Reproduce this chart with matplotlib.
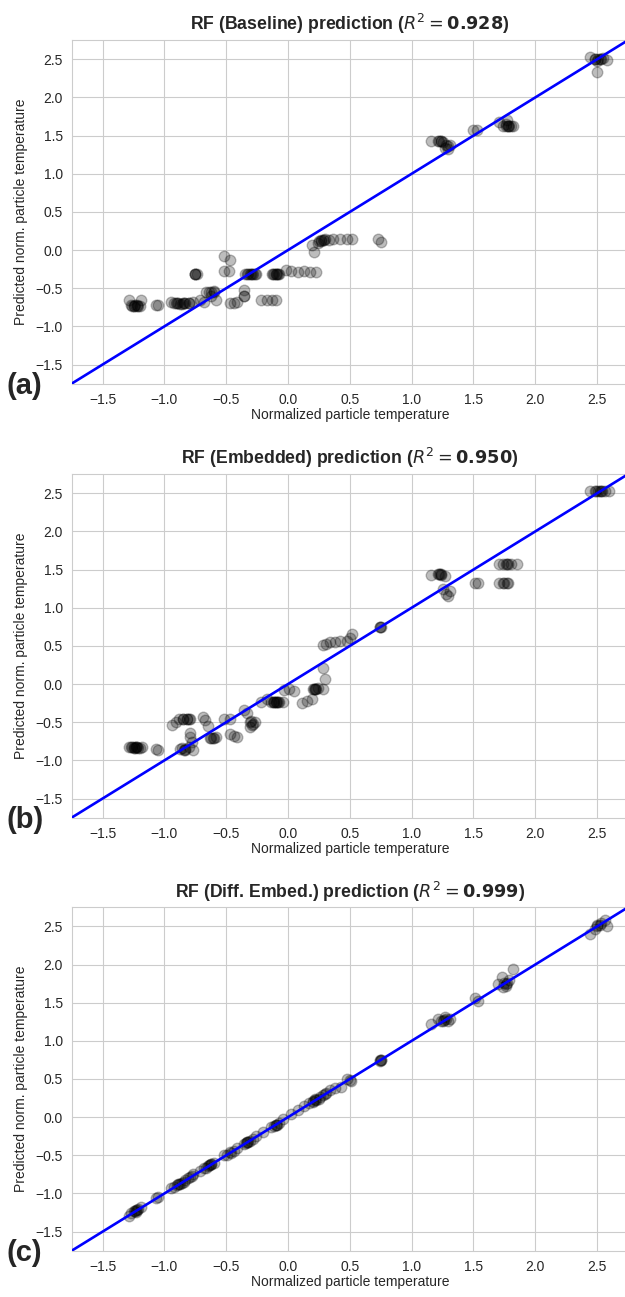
import matplotlib
matplotlib.use("Agg")
import matplotlib.pyplot as plt
import seaborn as sns

sns.set_style("whitegrid")
plt.rcParams['font.family'] = ['Liberation Sans', 'DejaVu Sans']
plt.rcParams['mathtext.fontset'] = 'dejavusans'

# ---------------- data ----------------
titles = ["RF (Baseline) prediction ($R^2 = \\mathbf{0.928}$)",
          "RF (Embedded) prediction ($R^2 = \\mathbf{0.950}$)",
          "RF (Diff. Embed.) prediction ($R^2 = \\mathbf{0.999}$)"]
panel_labels = ["(a)", "(b)", "(c)"]
xlabel = "Normalized particle temperature"
ylabel = "Predicted norm. particle temperature"
ticks = [-1.5, -1.0, -0.5, 0.0, 0.5, 1.0, 1.5, 2.0, 2.5]

base_x = [-1.29, -1.27, -1.25, -1.22, -1.20, -1.19, -1.07, -1.05,
          -0.95, -0.92, -0.89, -0.86, -0.84, -0.80, -0.77, -0.75,
          -0.71, -0.68, -0.66, -0.64, -0.62, -0.60, -0.58,
          -0.52, -0.47, -0.52, -0.48, -0.47, -0.44, -0.41, -0.36, -0.36,
          -0.35, -0.32, -0.29, -0.26, -0.22, -0.17, -0.13, -0.10,
          -0.13, -0.10, -0.07, -0.02, 0.02, 0.08, 0.13, 0.18, 0.23,
          0.19, 0.21, 0.24, 0.27, 0.30, 0.33, 0.36, 0.42, 0.48, 0.52,
          0.73, 0.75,
          1.16, 1.21, 1.24, 1.27, 1.28, 1.31, 1.29,
          1.50, 1.53,
          1.71, 1.74, 1.76, 1.79, 1.82, 1.77,
          2.44, 2.48, 2.50, 2.52, 2.55, 2.58, 2.50,
          -1.26, -1.24, -1.21, -0.90, -0.87, -0.83, -0.80, -0.75, -0.74,
          -0.31, -0.28, -0.33, -0.11, -0.09, -0.12, 0.27, 0.29, 0.25,
          1.22, 1.25, 1.29, 1.76, 1.78, 1.80, 2.48, 2.51, 2.53,
          -0.62, -0.60, -0.36,
          -1.25, -1.22, -0.91, -0.85, -0.75, -0.30, -0.27, -0.10, -0.08,
          0.28, 1.24, 1.78]
base_y = [-0.66, -0.72, -0.73, -0.72, -0.73, -0.66, -0.72, -0.72,
          -0.68, -0.69, -0.70, -0.71, -0.69, -0.69, -0.68, -0.31,
          -0.66, -0.68, -0.55, -0.55, -0.60, -0.53, -0.66,
          -0.08, -0.13, -0.28, -0.28, -0.70, -0.70, -0.68, -0.52, -0.60,
          -0.31, -0.31, -0.31, -0.31, -0.66, -0.66, -0.66, -0.66,
          -0.31, -0.31, -0.31, -0.26, -0.27, -0.29, -0.27, -0.29, -0.29,
          0.07, -0.02, 0.09, 0.12, 0.14, 0.13, 0.14, 0.14, 0.14, 0.14,
          0.14, 0.10,
          1.43, 1.43, 1.43, 1.34, 1.38, 1.38, 1.32,
          1.57, 1.57,
          1.68, 1.62, 1.65, 1.62, 1.62, 1.70,
          2.53, 2.50, 2.48, 2.50, 2.52, 2.49, 2.33,
          -0.73, -0.72, -0.73, -0.70, -0.71, -0.70, -0.69, -0.31, -0.31,
          -0.31, -0.31, -0.31, -0.31, -0.31, -0.31, 0.13, 0.13, 0.12,
          1.43, 1.42, 1.36, 1.63, 1.62, 1.63, 2.50, 2.50, 2.51,
          -0.55, -0.55, -0.60,
          -0.73, -0.73, -0.70, -0.70, -0.31, -0.31, -0.31, -0.31, -0.31,
          0.13, 1.43, 1.63]

emb_x = [-1.29, -1.27, -1.25, -1.23, -1.20, -1.18, -1.07, -1.05,
         -0.94, -0.91, -0.88, -0.85, -0.82, -0.79,
         -0.86, -0.83, -0.80, -0.77, -0.79, -0.79, -0.78,
         -0.69, -0.67, -0.65, -0.63, -0.61, -0.58,
         -0.52, -0.47, -0.47, -0.44, -0.41,
         -0.36, -0.33, -0.30, -0.28, -0.31, -0.27,
         -0.22, -0.17, -0.14, -0.10, -0.07, -0.04,
         -0.03, 0.01, 0.05,
         0.11, 0.15, 0.19, 0.22, 0.20, 0.24, 0.28, 0.30, 0.28, 0.28,
         0.31, 0.34, 0.38, 0.42, 0.48, 0.50, 0.52,
         0.74, 0.75,
         1.16, 1.21, 1.24, 1.27, 1.25, 1.28, 1.31, 1.29,
         1.51, 1.54,
         1.71, 1.74, 1.77, 1.80, 1.85, 1.71, 1.74, 1.78,
         2.44, 2.48, 2.51, 2.53, 2.56, 2.60,
         -1.26, -1.24, -1.22, -1.21, -0.85, -0.82, -0.80, -0.87, -0.84,
         -0.62, -0.60, -0.12, -0.10, -0.08, -0.11, 0.21, 0.23,
         1.22, 1.24, 1.76, 1.78, 1.75, 1.77, 2.49, 2.52, 2.54,
         -0.31, -0.29,
         -1.25, -1.23, -0.11, -0.09, -0.83, 0.22, 0.74, 1.23]
emb_y = [-0.83, -0.83, -0.84, -0.83, -0.84, -0.83, -0.85, -0.86,
         -0.53, -0.50, -0.46, -0.46, -0.46, -0.46,
         -0.84, -0.86, -0.83, -0.87, -0.64, -0.70, -0.76,
         -0.43, -0.47, -0.55, -0.71, -0.71, -0.70,
         -0.46, -0.46, -0.66, -0.68, -0.69,
         -0.34, -0.38, -0.48, -0.52, -0.56, -0.50,
         -0.23, -0.20, -0.23, -0.23, -0.24, -0.24,
         -0.08, -0.06, -0.09,
         -0.25, -0.22, -0.20, -0.06, -0.06, -0.05, -0.06, 0.06, 0.21, 0.51,
         0.53, 0.55, 0.55, 0.56, 0.57, 0.60, 0.66,
         0.75, 0.75,
         1.43, 1.44, 1.44, 1.42, 1.25, 1.18, 1.22, 1.15,
         1.32, 1.32,
         1.57, 1.57, 1.57, 1.57, 1.57, 1.32, 1.32, 1.32,
         2.53, 2.53, 2.53, 2.53, 2.53, 2.53,
         -0.83, -0.84, -0.83, -0.84, -0.46, -0.46, -0.46, -0.85, -0.86,
         -0.71, -0.71, -0.24, -0.24, -0.24, -0.23, -0.06, -0.06,
         1.44, 1.43, 1.57, 1.57, 1.32, 1.32, 2.53, 2.53, 2.53,
         -0.50, -0.54,
         -0.83, -0.83, -0.24, -0.24, -0.85, -0.06, 0.75, 1.44]

diff_x = [-1.29, -1.27, -1.25, -1.23, -1.21, -1.19, -1.07, -1.05,
          -0.95, -0.92, -0.89, -0.86, -0.84, -0.81, -0.79, -0.77,
          -0.71, -0.68, -0.66, -0.64, -0.62, -0.60,
          -0.52, -0.49, -0.47, -0.44, -0.41,
          -0.36, -0.33, -0.31, -0.28, -0.26,
          -0.20, -0.14, -0.10, -0.07, -0.04,
          0.02, 0.08, 0.13, 0.17, 0.20, 0.22, 0.25, 0.28, 0.31, 0.34,
          0.38, 0.43, 0.48, 0.51,
          0.74, 0.75,
          1.16, 1.21, 1.24, 1.27, 1.29, 1.31,
          1.51, 1.54,
          1.70, 1.73, 1.76, 1.79, 1.82, 1.74,
          2.44, 2.48, 2.50, 2.53, 2.56, 2.58,
          -1.24, -1.22, -0.90, -0.87, -0.83, -0.65, -0.63, -0.46,
          -0.34, -0.32, -0.11, -0.09, 0.20, 0.23, 0.26, 0.30,
          0.50, 0.75, 1.25, 1.28, 1.75, 1.77, 2.50, 2.52,
          -1.23, -0.88, -0.78, -0.62, -0.33, -0.10, 0.22, 0.74, 1.26, 1.76]
diff_y = [-1.29, -1.25, -1.23, -1.24, -1.20, -1.18, -1.06, -1.05,
          -0.93, -0.91, -0.88, -0.86, -0.85, -0.80, -0.78, -0.75,
          -0.71, -0.67, -0.66, -0.63, -0.62, -0.60,
          -0.49, -0.49, -0.46, -0.44, -0.40,
          -0.35, -0.33, -0.31, -0.29, -0.25,
          -0.20, -0.13, -0.10, -0.08, -0.03,
          0.04, 0.09, 0.15, 0.18, 0.21, 0.24, 0.24, 0.29, 0.31, 0.35,
          0.38, 0.40, 0.50, 0.48,
          0.74, 0.75,
          1.22, 1.28, 1.26, 1.31, 1.26, 1.28,
          1.56, 1.52,
          1.75, 1.84, 1.72, 1.80, 1.94, 1.70,
          2.40, 2.47, 2.52, 2.55, 2.58, 2.50,
          -1.23, -1.22, -0.89, -0.87, -0.83, -0.64, -0.63, -0.47,
          -0.34, -0.32, -0.11, -0.10, 0.20, 0.23, 0.26, 0.30,
          0.49, 0.75, 1.26, 1.28, 1.76, 1.76, 2.51, 2.52,
          -1.22, -0.88, -0.77, -0.62, -0.33, -0.10, 0.22, 0.75, 1.27, 1.75]

panels = [(base_x, base_y), (emb_x, emb_y), (diff_x, diff_y)]

# ---------------- figure ----------------
W, H = 625, 1297
fig = plt.figure(figsize=(W / 100, H / 100), dpi=100)

ax_left, ax_right = 71.7, 628.0
tops = [40.2, 474.2, 907.3]
ax_h = 343.4
lims = (-1.75, 2.75)

for i, (xs, ys) in enumerate(panels):
    n = min(len(xs), len(ys))
    top = tops[i]
    ax = fig.add_axes([ax_left / W, 1 - (top + ax_h) / H,
                       (ax_right - ax_left) / W, ax_h / H])
    ax.scatter(xs[:n], ys[:n], s=58, c='black', alpha=0.26, zorder=3)
    ax.plot(lims, lims, color='blue', lw=1.9, zorder=4)
    ax.set_xlim(lims)
    ax.set_ylim(lims)
    ax.set_xticks(ticks)
    ax.set_yticks(ticks)
    ax.tick_params(labelsize=10, colors='.15', pad=3)
    ax.set_xlabel(xlabel, fontsize=10, color='.15', labelpad=1)
    ax.set_ylabel(ylabel, fontsize=10, color='.15', labelpad=5)
    ax.set_title(titles[i], fontsize=12.7, fontweight='bold', color='.15', pad=7)
    fig.text(7 / W, 1 - (top + ax_h + 2) / H, panel_labels[i],
             fontsize=21, fontweight='bold', ha='left', va='center')

fig.savefig("out.png", dpi=100)
